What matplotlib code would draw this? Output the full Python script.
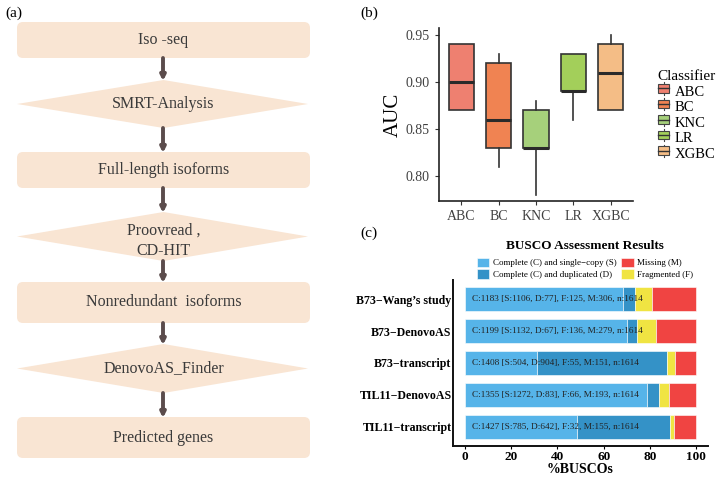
import numpy as np
import matplotlib
matplotlib.use('Agg')
import matplotlib.pyplot as plt
from matplotlib.patches import FancyBboxPatch, Polygon, Patch, Rectangle
from matplotlib.lines import Line2D
from matplotlib.legend_handler import HandlerBase

plt.rcParams['font.family'] = ['Liberation Serif', 'DejaVu Serif']

# ---------------- data ----------------
# (a) flowchart steps
flow_labels = ['Iso -seq', 'SMRT-Analysis', 'Full-length isoforms', 'Proovread ,\nCD-HIT',
               'Nonredundant  isoforms', 'DenovoAS_Finder', 'Predicted genes']
flow_shapes = ['box', 'diamond', 'box', 'diamond', 'box', 'diamond', 'box']

# (b) AUC boxplot per classifier
classifiers = ['ABC', 'BC', 'KNC', 'LR', 'XGBC']
auc_q1 = [0.87, 0.83, 0.83, 0.89, 0.87]
auc_med = [0.90, 0.86, 0.83, 0.89, 0.91]
auc_q3 = [0.94, 0.92, 0.87, 0.93, 0.94]
auc_lo = [0.87, 0.81, 0.78, 0.86, 0.87]
auc_hi = [0.94, 0.93, 0.88, 0.93, 0.95]
clf_colors = ['#EE8070', '#F08352', '#A6D07B', '#A3CF5A', '#F4BD86']

# (c) BUSCO results
samples = ['B73\u2212Wang\u2019s study', 'B73\u2212DenovoAS', 'B73\u2212transcript',
           'TIL11\u2212DenovoAS', 'TIL11\u2212transcript']
single = [1106, 1132, 504, 1272, 785]
dup = [77, 67, 904, 83, 642]
frag = [125, 136, 55, 66, 32]
missing = [306, 279, 151, 193, 155]
total = 1614
busco_colors = ['#56B4E9', '#3492C7', '#F0E442', '#F04442']
busco_labels = ['Complete (C) and single\u2212copy (S)', 'Complete (C) and duplicated (D)',
                'Fragmented (F)', 'Missing (M)']

W, H = 726, 479
fig = plt.figure(figsize=(W / 100, H / 100), dpi=100)

# ---------------- (a) flowchart ----------------
axa = fig.add_axes([0, 0, 1, 1])
axa.set_xlim(0, W)
axa.set_ylim(H, 0)
axa.axis('off')

box_fc = '#F9E5D3'
x0, x1 = 17, 310
xc = (x0 + x1) / 2
tops = [22, 80, 152, 212, 282, 344, 417]
bots = [58, 128, 188, 261, 323, 393, 458]
for i, (lab, shp) in enumerate(zip(flow_labels, flow_shapes)):
    t, b = tops[i], bots[i]
    yc = (t + b) / 2
    if shp == 'box':
        axa.add_patch(FancyBboxPatch((x0, t), x1 - x0, b - t,
                                     boxstyle='round,pad=0,rounding_size=6',
                                     fc=box_fc, ec='none'))
    else:
        axa.add_patch(Polygon([(x0, yc), (xc, t), (x1 - 2, yc), (xc, b)],
                              closed=True, fc=box_fc, ec='none'))
    ty = yc + (4 if '\n' in lab else 0)
    axa.text(xc, ty, lab, ha='center', va='center', fontsize=11.5, color='#3a3a3a',
             linespacing=1.35)
    if i < len(flow_labels) - 1:
        axa.annotate('', xy=(163, tops[i + 1] + 1), xytext=(163, b),
                     arrowprops=dict(arrowstyle='-|>', lw=2.8, color='#5b4c4c',
                                     mutation_scale=7, shrinkA=0, shrinkB=0))

fig.text(5 / W, 1 - 13 / H, '(a)', fontsize=11, va='center', ha='left')
fig.text(360 / W, 1 - 13 / H, '(b)', fontsize=11, va='center', ha='left')
fig.text(360 / W, 1 - 233 / H, '(c)', fontsize=11, va='center', ha='left')

# ---------------- (b) boxplot ----------------
axb = fig.add_axes([439 / W, 1 - 201 / H, 194 / W, 173 / H])
stats = []
for i, c in enumerate(classifiers):
    stats.append(dict(label=c, q1=auc_q1[i], med=auc_med[i], q3=auc_q3[i],
                      whislo=auc_lo[i], whishi=auc_hi[i], fliers=[]))
pos = np.arange(1, len(classifiers) + 1)
bp = axb.bxp(stats, positions=pos, widths=0.68, patch_artist=True, showfliers=False,
             showcaps=False,
             boxprops=dict(edgecolor='#333333', linewidth=1.2),
             medianprops=dict(color='#2a2a2a', linewidth=2.2),
             whiskerprops=dict(color='#333333', linewidth=1.2))
for patch, col in zip(bp['boxes'], clf_colors):
    patch.set_facecolor(col)
axb.set_xlim(0.4, 5.6)
axb.set_ylim(0.7734, 0.9574)
axb.set_yticks([0.80, 0.85, 0.90, 0.95])
axb.set_yticklabels(['0.80', '0.85', '0.90', '0.95'])
axb.set_xticks(pos)
axb.set_xticklabels(classifiers)
axb.tick_params(labelsize=10, colors='#333333', length=3, width=0.8)
axb.tick_params(axis='both', labelcolor='#404040')
for s in ['top', 'right']:
    axb.spines[s].set_visible(False)
for s in ['left', 'bottom']:
    axb.spines[s].set_linewidth(1.2)
    axb.spines[s].set_color('#222222')
axb.set_ylabel('AUC', fontsize=15, labelpad=2)


class BoxKey(HandlerBase):
    def create_artists(self, legend, orig, xd, yd, w, h, fontsize, trans):
        fc = orig.get_facecolor()
        r = Rectangle((xd + w * 0.1, yd + h * 0.15), w * 0.8, h * 0.7, fc=fc,
                      ec='#444444', lw=0.8, transform=trans)
        m = Line2D([xd + w * 0.1, xd + w * 0.9], [yd + h / 2] * 2, color='#333333',
                   lw=1.0, transform=trans)
        v = Line2D([xd + w / 2] * 2, [yd, yd + h], color='#444444', lw=0.8,
                   transform=trans)
        return [v, r, m]


handles = [Patch(facecolor=c, label=l) for c, l in zip(clf_colors, classifiers)]
fig.legend(handles=handles, loc='upper left', bbox_to_anchor=(657 / W, 1 - 70 / H),
           title='Classifier', fontsize=10.5, title_fontsize=11, frameon=False,
           handler_map={Patch: BoxKey()}, handlelength=0.9, handleheight=0.9,
           labelspacing=0.1, handletextpad=0.3, borderpad=0, borderaxespad=0,
           alignment='left')

# ---------------- (c) BUSCO ----------------
axc = fig.add_axes([453 / W, 1 - 446 / H, 255 / W, 166 / H])
ypos = np.arange(len(samples))[::-1]
s_pct = np.array(single) / total * 100
d_pct = np.array(dup) / total * 100
f_pct = np.array(frag) / total * 100
m_pct = np.array(missing) / total * 100
left = np.zeros(len(samples))
bars = []
for vals, col, lab in zip([s_pct, d_pct, f_pct, m_pct], busco_colors, busco_labels):
    b = axc.barh(ypos, vals, left=left, height=0.75, color=col, edgecolor='white',
                 linewidth=0.4, label=lab)
    bars.append(b)
    left = left + vals
for i in range(len(samples)):
    txt = 'C:%d [S:%d, D:%d], F:%d, M:%d, n:%d' % (single[i] + dup[i], single[i], dup[i],
                                                 frag[i], missing[i], total)
    axc.text(3, ypos[i], txt, ha='left', va='center', fontsize=6.7, color='#222222')
axc.set_xlim(-5, 105)
axc.set_ylim(-0.6, 4.6)
axc.set_yticks(ypos)
axc.set_yticklabels(samples, fontweight='bold', fontsize=8.6)
axc.tick_params(axis='y', length=0, pad=1)
axc.set_xticks([0, 20, 40, 60, 80, 100])
axc.tick_params(axis='x', labelsize=9.5, length=2.5, width=0.8, pad=1)
for lab in axc.get_xticklabels():
    lab.set_fontweight('bold')
for s in ['top', 'right']:
    axc.spines[s].set_visible(False)
for s in ['left', 'bottom']:
    axc.spines[s].set_linewidth(1.4)
    axc.spines[s].set_color('#111111')
axc.set_xlabel('%BUSCOs', fontweight='bold', fontsize=10, labelpad=0)
fig.text(585 / W, 1 - 246 / H, 'BUSCO Assessment Results', ha='center', va='center',
         fontweight='bold', fontsize=9.5)
order = [0, 1, 3, 2]
fig.legend([bars[k] for k in order], [busco_labels[k] for k in order], ncol=2,
           loc='upper left', bbox_to_anchor=(472 / W, 1 - 253 / H), fontsize=6.5,
           frameon=False, handlelength=1.4, handleheight=1.3, columnspacing=0.5,
           labelspacing=0.15, handletextpad=0.4, borderpad=0)

fig.savefig('out.png', dpi=100)
